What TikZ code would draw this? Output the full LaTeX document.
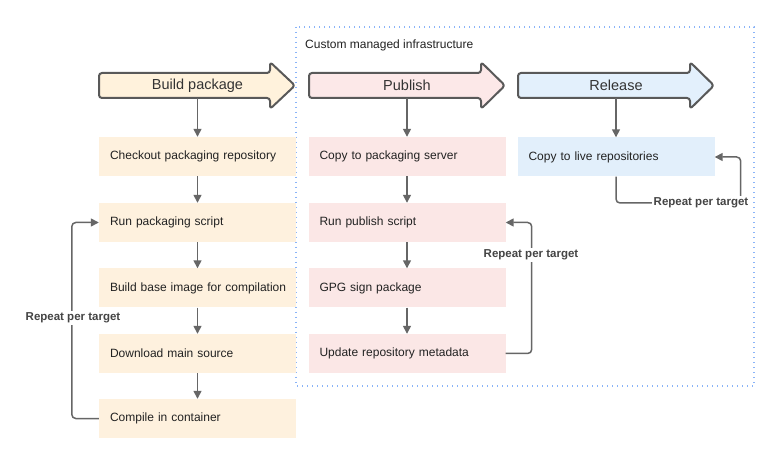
\documentclass[tikz,border=0pt]{standalone}
\usepackage{fontspec}
\setmainfont{Liberation Sans}
\usetikzlibrary{arrows.meta,calc}
\definecolor{strokeg}{HTML}{595959}
\definecolor{conng}{HTML}{666666}
\definecolor{txtc}{HTML}{222222}
\definecolor{lbl}{HTML}{444444}
\definecolor{buildA}{HTML}{FFF2DC}
\definecolor{buildB}{HTML}{FEF1DE}
\definecolor{pubA}{HTML}{FCE8E8}
\definecolor{pubB}{HTML}{FBE7E6}
\definecolor{relA}{HTML}{E3F0FC}
\definecolor{relB}{HTML}{E2EFFB}
\definecolor{dotc}{HTML}{8AB4F8}
\begin{document}
\begin{tikzpicture}[x=1pt,y=-1pt,
  phasepath/.style={draw=strokeg,line width=2pt,rounded corners=3pt,line join=round},
  phaselbl/.style={text=black!80,font=\fontsize{14.5}{16}\selectfont,minimum height=25pt,inner sep=0pt},
  box/.style={rectangle,inner xsep=0pt,inner ysep=0pt,text width=186pt,minimum width=197pt,align=left,minimum height=39pt,text=txtc,font=\fontsize{12}{14}\selectfont,execute at begin node={\hspace*{5.5pt}}},
  conn/.style={draw=conng,line width=1.5pt,-{Triangle[length=8pt,width=8pt]}},
  loop/.style={conn,rounded corners=4pt},
  replbl/.style={fill=white,inner sep=1.5pt,text=lbl,font=\bfseries\fontsize{11.5}{13}\selectfont}]
\useasboundingbox (0,0) rectangle (780,465);
\fill[white] (0,0) rectangle (780,465);
% infrastructure frame
\draw[dotc,line width=1.1pt,dash pattern=on 1.2pt off 3.8pt] (296,27) rectangle (754,386);
\node[anchor=west,text=txtc,font=\fontsize{12}{14}\selectfont,inner sep=0pt] (infra) at (305,45) {Custom managed infrastructure};
% phase arrows
\draw[phasepath,fill=buildA] (99,73) -- (270,73) -- (270,62) -- (295,85.5) -- (270,109) -- (270,98) -- (99,98) -- cycle;
\draw[phasepath,fill=pubA] (309,73) -- (481,73) -- (481,62) -- (505,85.5) -- (481,109) -- (481,98) -- (309,98) -- cycle;
\draw[phasepath,fill=relA] (518,73) -- (690,73) -- (690,62) -- (714,85.5) -- (690,109) -- (690,98) -- (518,98) -- cycle;
\node[phaselbl] (build) at (197.5,85.5) {Build package};
\node[phaselbl] (publish) at (407,85.5) {Publish};
\node[phaselbl] (release) at (616,85.5) {Release};
% boxes
\node[box,fill=buildB] (checkout) at (197.5,156.5) {Checkout packaging repository};
\node[box,fill=buildB] (runpkg) at (197.5,222.5) {Run packaging script};
\node[box,fill=buildB] (baseimg) at (197.5,288) {Build base image for compilation};
\node[box,fill=buildB] (download) at (197.5,353.5) {Download main source};
\node[box,fill=buildB] (compile) at (197.5,418.5) {Compile in container};
\node[box,fill=pubB] (copyserv) at (407,156.5) {Copy to packaging server};
\node[box,fill=pubB] (runpub) at (407,222.5) {Run publish script};
\node[box,fill=pubB] (gpg) at (407,288) {GPG sign package};
\node[box,fill=pubB] (update) at (407,353.5) {Update repository metadata};
\node[box,fill=relB] (copylive) at (616,157) {Copy to live repositories};
% connectors
\draw[conn] (build.south) -- (checkout.north);
\draw[conn] (checkout.south) -- (runpkg.north);
\draw[conn] (runpkg.south) -- (baseimg.north);
\draw[conn] (baseimg.south) -- (download.north);
\draw[conn] (download.south) -- (compile.north);
\draw[conn] (publish.south) -- (copyserv.north);
\draw[conn] (copyserv.south) -- (runpub.north);
\draw[conn] (runpub.south) -- (gpg.north);
\draw[conn] (gpg.south) -- (update.north);
\draw[conn] (release.south) -- (copylive.north);
% loops
\draw[loop] (compile.west) -- ++(-27,0) |- (runpkg.west);
\node[replbl] (rep1) at (73,318) {Repeat per target};
\draw[loop] (update.east) -- ++(26,0) |- (runpub.east);
\node[replbl] (rep2) at (531,255) {Repeat per target};
\draw[loop] (copylive.south) |- ($(copylive.east)+(26,46)$) |- (copylive.east);
\node[replbl] (rep3) at (701,203) {Repeat per target};
\end{tikzpicture}
\end{document}
